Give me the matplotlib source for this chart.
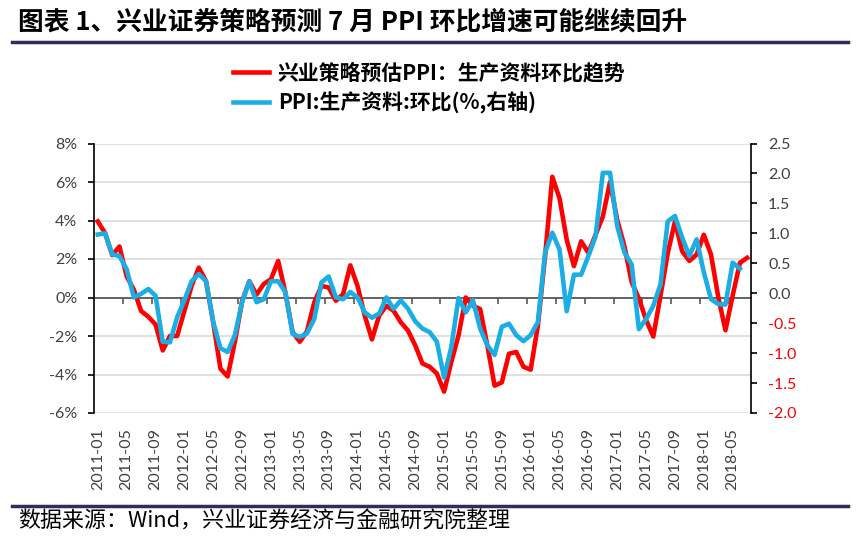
import numpy as np
import pandas as pd
import matplotlib
matplotlib.use("Agg")
import matplotlib.pyplot as plt
from matplotlib.ticker import FuncFormatter
from matplotlib.lines import Line2D

plt.rcParams['font.family'] = ['Noto Sans CJK SC', 'DejaVu Sans']

# ---------------- data ----------------
months = list(pd.period_range('2011-01', '2018-07', freq='M').strftime('%Y-%m'))

red_trend = [3.95, 3.35, 2.2, 2.65, 1.1, 0.4, -0.7, -1.0, -1.4, -2.75,
             -2.0, -2.0, -0.7, 0.6, 1.55, 0.85, -1.3, -3.7, -4.1, -2.3,
             -0.2, 0.85, 0.15, 0.7, 0.95, 1.9, 0.25, -1.8, -2.3, -1.75,
             -0.26, 0.6, 0.52, -0.17, 0.17, 1.67, 0.6, -0.94, -2.18, -0.94,
             -0.43, -0.69, -1.29, -1.72, -2.49, -3.43, -3.6, -3.95, -4.89, -3.35,
             -1.97, 0.0, -0.43, -0.6, -2.5, -4.58, -4.41, -2.92, -2.83, -3.6,
             -3.75, -1.46, 2.15, 6.27, 5.15, 3.0, 1.63, 2.92, 2.32, 3.26,
             4.2, 6.0, 4.03, 2.66, 0.8, -0.05, -1.17, -2.03, 0.1, 2.3,
             3.95, 2.4, 1.9, 2.23, 3.26, 2.23, 0.03, -1.7, 0.1, 1.8,
             2.06]

ppi_mom = [0.98, 1.0, 0.65, 0.62, 0.4, -0.07, -0.01, 0.07, -0.04, -0.81,
           -0.82, -0.4, -0.12, 0.2, 0.32, 0.2, -0.48, -0.92, -0.98, -0.7,
           -0.15, 0.2, -0.15, -0.1, 0.2, 0.2, 0.02, -0.68, -0.73, -0.67,
           -0.43, 0.18, 0.28, -0.07, -0.1, 0.02, -0.07, -0.32, -0.41, -0.34,
           -0.07, -0.26, -0.12, -0.26, -0.47, -0.59, -0.65, -0.81, -1.41, -0.9,
           -0.08, -0.32, -0.12, -0.59, -0.87, -1.03, -0.56, -0.51, -0.7, -0.8,
           -0.7, -0.48, 0.68, 1.01, 0.73, -0.3, 0.31, 0.31, 0.62, 0.95,
           2.01, 2.01, 1.12, 0.68, 0.48, -0.6, -0.43, -0.21, 0.15, 1.2,
           1.29, 0.93, 0.62, 0.9, 0.35, -0.1, -0.18, -0.19, 0.51, 0.41]

left_ticks = [-6, -4, -2, 0, 2, 4, 6, 8]
right_ticks = [-2.0, -1.5, -1.0, -0.5, 0.0, 0.5, 1.0, 1.5, 2.0, 2.5]

series_names = ['兴业策略预估PPI：生产资料环比趋势', 'PPI:生产资料:环比(%,右轴)']
title = '图表 1、兴业证券策略预测 7 月 PPI 环比增速可能继续回升'
source = '数据来源：Wind，兴业证券经济与金融研究院整理'

RED = '#FF0000'
BLUE = '#1BAEE5'
LABEL = '#404040'
NAVY = '#2E2D5E'
TICKFONT = 'Lato'

# ---------------- figure ----------------
W, H = 859, 538
fig = plt.figure(figsize=(W / 100, H / 100), dpi=100)
ax = fig.add_axes([94.2 / W, 1 - 413 / H, (750.7 - 94.2) / W, (413 - 143.5) / H])
ax2 = ax.twinx()

x_red = np.arange(len(red_trend))
x_blue = np.arange(len(ppi_mom))
l1, = ax.plot(x_red, red_trend, color=RED, lw=3.3, solid_joinstyle='round', zorder=3)
l2, = ax2.plot(x_blue, ppi_mom, color=BLUE, lw=3.3, solid_joinstyle='round', zorder=3)

n = len(months)
ax.set_xlim(-0.5, n - 0.5)
ax.set_ylim(-6, 8)
ax.set_yticks(left_ticks)
ax2.set_ylim(-2, 2.5)
ax2.set_yticks(right_ticks)

ax.yaxis.grid(True, color='#D9D9D9', lw=1.1)
ax.set_axisbelow(True)

for s in ['top', 'right']:
    ax.spines[s].set_visible(False)
for s in ['top', 'bottom', 'left']:
    ax2.spines[s].set_visible(False)
ax.spines['left'].set_color('#000000')
ax2.spines['right'].set_color('#000000')
ax.spines['left'].set_linewidth(1.2)
ax2.spines['right'].set_linewidth(1.2)

# zero axis line with category boundary ticks
ax.spines['bottom'].set_position(('data', 0))
ax.spines['bottom'].set_color('#595959')
ax.spines['bottom'].set_linewidth(1.3)
ax.spines['bottom'].set_zorder(1.5)
ax.xaxis.set_zorder(1.5)
ax.set_xticks(np.arange(3.5, n - 1, 4))
ax.set_xticklabels([])
ax.tick_params(axis='x', direction='out', length=4, width=1.2, color='#595959')

# category labels
xt = ax.get_xaxis_transform()
for i in range(0, n, 4):
    ax.text(i, -15 / 269.5, months[i], transform=xt, rotation=90, ha='center', va='top',
            fontsize=11.5, color=LABEL, family=TICKFONT)

ax.yaxis.set_major_formatter(FuncFormatter(lambda v, p: f'{v:.0f}%'))
ax.tick_params(axis='y', direction='out', length=4, width=1.2, color='#000000',
               labelsize=11.5, labelcolor=LABEL, pad=8)
ax2.yaxis.set_major_formatter(FuncFormatter(lambda v, p: f'{v:.1f}'))
ax2.tick_params(axis='y', direction='out', length=4.5, width=1.2, color='#000000',
                labelsize=11.5, labelcolor=LABEL, pad=8)
for lab in ax.get_yticklabels() + ax2.get_yticklabels():
    lab.set_family(TICKFONT)
for lab, v in zip(ax2.get_yticklabels(), right_ticks):
    if v < 0:
        lab.set_color(RED)

# legend
fig.legend([l1, l2], series_names, loc='center left',
           bbox_to_anchor=(233 / W, 1 - 88 / H), frameon=False,
           handlelength=1.75, handletextpad=0.4, borderpad=0, borderaxespad=0,
           labelspacing=0.4, prop={'family': 'Noto Sans CJK SC', 'size': 15, 'weight': 'bold'})

# title & source
fig.text(18 / W, 1 - 23 / H, title, fontsize=18.5, fontweight='bold', va='center', ha='left', color='#000000')
fig.add_artist(Line2D([12 / W, 848 / W], [1 - 42 / H, 1 - 42 / H], color=NAVY, lw=2.5))
fig.add_artist(Line2D([12 / W, 848 / W], [1 - 506 / H, 1 - 506 / H], color=NAVY, lw=2.5))
fig.text(18 / W, 1 - 522 / H, source, fontsize=15.8, va='center', ha='left', color='#000000')

fig.savefig('out.png', dpi=100)
